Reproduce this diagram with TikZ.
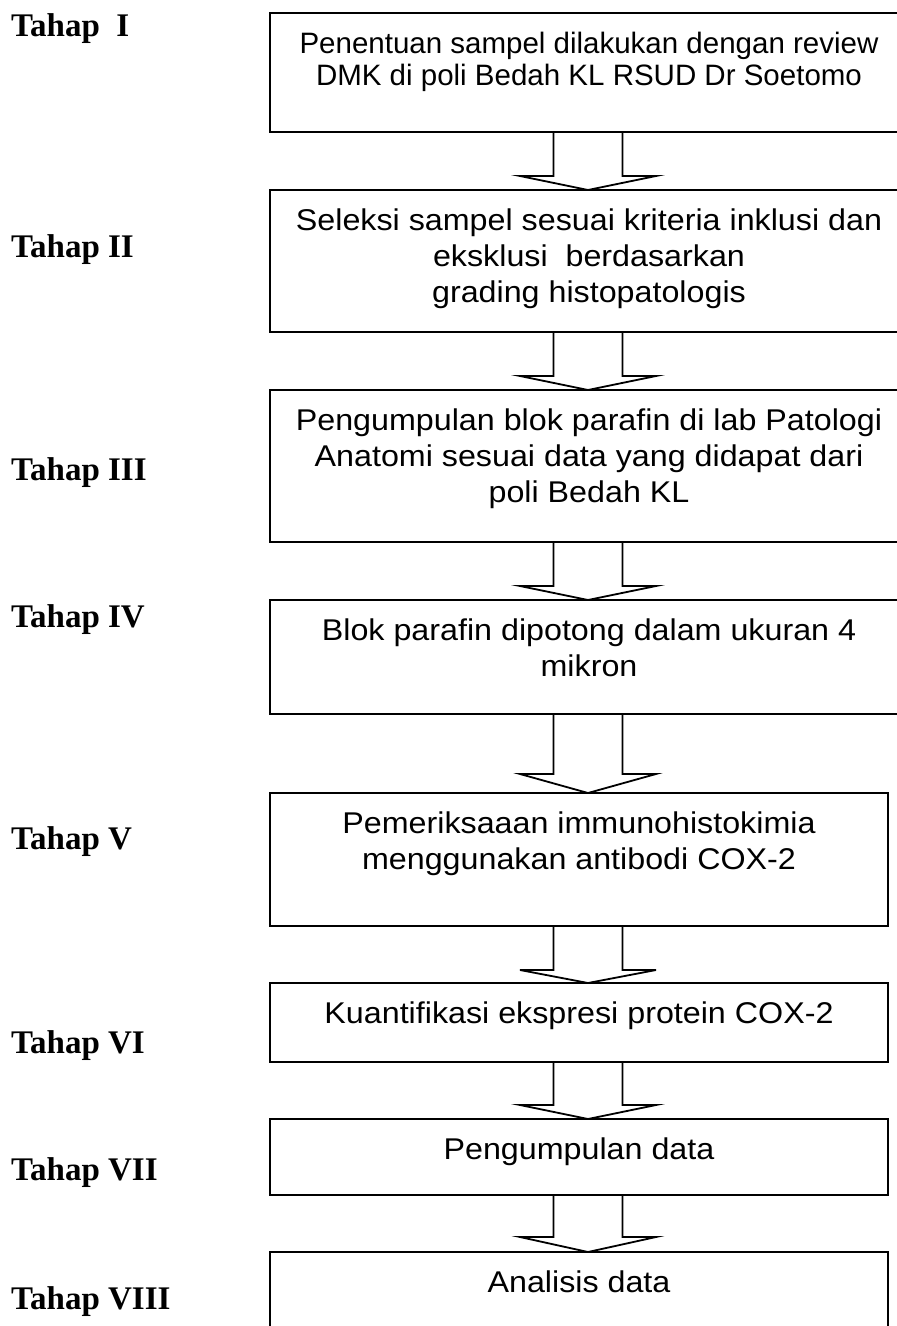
\documentclass[tikz,border=0pt]{standalone}
\usepackage{fontspec}
\setmainfont{Liberation Sans}
\newfontfamily\labfont{Liberation Serif}
\newfontfamily\boxfont[FakeStretch=1.075]{Liberation Sans}
\usetikzlibrary{calc}
\newcommand\blockarr[3]{%
  \draw[blockarrow] ($(#1.south -| ax)+(-34.5,0)$) -- ($(#2.north -| ax)+(-34.5,-#3)$)
    -- ($(#2.north -| ax)+(-68,-#3)$) -- (#2.north -| ax) -- ($(#2.north -| ax)+(68,-#3)$)
    -- ($(#2.north -| ax)+(34.5,-#3)$) -- ($(#1.south -| ax)+(34.5,0)$);}
\begin{document}
\begin{tikzpicture}[x=1pt,y=-1pt,
  box/.style={draw, line width=2pt, inner sep=0pt, outer sep=0pt, anchor=north west},
  boxtext/.style={anchor=north, align=center, inner sep=0pt, font=\boxfont\fontsize{30}{36}\selectfont},
  lab/.style={anchor=base west, inner sep=0pt, font=\labfont\bfseries\fontsize{33}{33}\selectfont},
  blockarrow/.style={draw, line width=1.8pt, line join=miter}]
\useasboundingbox (0,0) rectangle (897,1326);
\coordinate (ax) at (588,0);
% boxes
\node[box, minimum width=638, minimum height=119] (b1) at (270,13) {};
\node[box, minimum width=638, minimum height=142] (b2) at (270,190) {};
\node[box, minimum width=638, minimum height=152] (b3) at (270,390) {};
\node[box, minimum width=638, minimum height=114] (b4) at (270,600) {};
\node[box, minimum width=618, minimum height=133] (b5) at (270,793) {};
\node[box, minimum width=618, minimum height=79] (b6) at (270,983) {};
\node[box, minimum width=618, minimum height=76] (b7) at (270,1119) {};
\node[box, minimum width=618, minimum height=95] (b8) at (270,1252) {};
% texts
\node[boxtext, font=\fontsize{29.5}{32}\selectfont] (t1) at ($(b1.north)+(0,18.9)$) {Penentuan sampel dilakukan dengan review\\DMK di poli Bedah KL RSUD Dr Soetomo};
\node[boxtext] (t2) at ($(b2.north)+(0,18.5)$) {Seleksi sampel sesuai kriteria inklusi dan\\eksklusi\ \ berdasarkan\\grading histopatologis};
\node[boxtext] (t3) at ($(b3.north)+(0,18.5)$) {Pengumpulan blok parafin di lab Patologi\\Anatomi sesuai data yang didapat dari\\poli Bedah KL};
\node[boxtext] (t4) at ($(b4.north)+(0,18.5)$) {Blok parafin dipotong dalam ukuran 4\\mikron};
\node[boxtext] (t5) at ($(b5.north)+(0,18.5)$) {Pemeriksaaan immunohistokimia\\menggunakan antibodi COX-2};
\node[boxtext] (t6) at ($(b6.north)+(0,18.5)$) {Kuantifikasi ekspresi protein COX-2};
\node[boxtext] (t7) at ($(b7.north)+(0,18.5)$) {Pengumpulan data};
\node[boxtext] (t8) at ($(b8.north)+(0,18.5)$) {Analisis data};
% arrows
\blockarr{b1}{b2}{14}
\blockarr{b2}{b3}{14}
\blockarr{b3}{b4}{14}
\blockarr{b4}{b5}{19}
\blockarr{b5}{b6}{13}
\blockarr{b6}{b7}{14}
\blockarr{b7}{b8}{15}
% labels
\node[lab] (l1) at (11,36) {Tahap\ \ I};
\node[lab] (l2) at (11,257) {Tahap II};
\node[lab] (l3) at (11,480) {Tahap III};
\node[lab] (l4) at (11,627) {Tahap IV};
\node[lab] (l5) at (11,849) {Tahap V};
\node[lab] (l6) at (11,1053) {Tahap VI};
\node[lab] (l7) at (11,1180) {Tahap VII};
\node[lab] (l8) at (11,1309) {Tahap VIII};
\end{tikzpicture}
\end{document}
